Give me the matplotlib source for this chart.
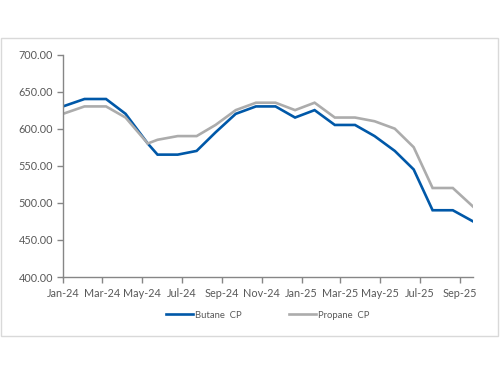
import matplotlib
matplotlib.use("Agg")
import matplotlib.pyplot as plt
import matplotlib.dates as mdates
from matplotlib.patches import Rectangle
import pandas as pd

plt.rcParams['font.family'] = ['Lato', 'DejaVu Sans']

dates = pd.to_datetime([
    "2024-01-01", "2024-02-03", "2024-03-07", "2024-04-06", "2024-05-10",
    "2024-05-25", "2024-06-25", "2024-07-24", "2024-08-22", "2024-09-22",
    "2024-10-23", "2024-11-22", "2024-12-22", "2025-01-21", "2025-02-21",
    "2025-03-24", "2025-04-23", "2025-05-24", "2025-06-22", "2025-07-21",
    "2025-08-21", "2025-09-21",
])
butane = [630, 640, 640, 620, 580, 565, 565, 570, 595, 620, 630, 630,
          615, 625, 605, 605, 590, 570, 545, 490, 490, 475]
propane = [620, 630, 630, 615, 580, 585, 590, 590, 605, 625, 635, 635,
           625, 635, 615, 615, 610, 600, 575, 520, 520, 495]
series_names = ["Butane  CP", "Propane  CP"]
y_ticks = [400, 450, 500, 550, 600, 650, 700]

fig = plt.figure(figsize=(5, 3.75), dpi=100)
fig.patches.append(Rectangle((1/500, 39/375), 497/500, 298/375, transform=fig.transFigure,
                             fill=False, edgecolor='#D9D9D9', linewidth=1))

ax = fig.add_axes([63/500, 98/375, 410/500, 222.5/375])
ax.plot(dates, butane, color='#0058A8', lw=1.9, label=series_names[0], solid_joinstyle='miter')
ax.plot(dates, propane, color='#ACACAC', lw=1.9, label=series_names[1], solid_joinstyle='miter')

ax.set_xlim(dates[0], dates[-1])
ax.set_ylim(400, 700)
ax.set_yticks(y_ticks)
ax.yaxis.set_major_formatter(matplotlib.ticker.FormatStrFormatter('%.2f'))
ax.xaxis.set_major_locator(mdates.MonthLocator(bymonth=[1, 3, 5, 7, 9, 11]))
ax.xaxis.set_major_formatter(mdates.DateFormatter('%b-%y'))

for s in ['top', 'right']:
    ax.spines[s].set_visible(False)
for s in ['left', 'bottom']:
    ax.spines[s].set_color('#868686')
    ax.spines[s].set_linewidth(1.0)
ax.tick_params(axis='both', colors='#868686', labelcolor='#595959', labelsize=7.8,
               length=4, width=1, direction='out')
ax.tick_params(axis='x', pad=4)
ax.tick_params(axis='y', pad=3)

fig.legend(loc='center', bbox_to_anchor=(0.535, 0.16), ncol=2, frameon=False,
           fontsize=6.8, handlelength=2.86, handletextpad=0.2, columnspacing=5.0,
           labelcolor='#595959')

fig.savefig('out.png', dpi=100)
